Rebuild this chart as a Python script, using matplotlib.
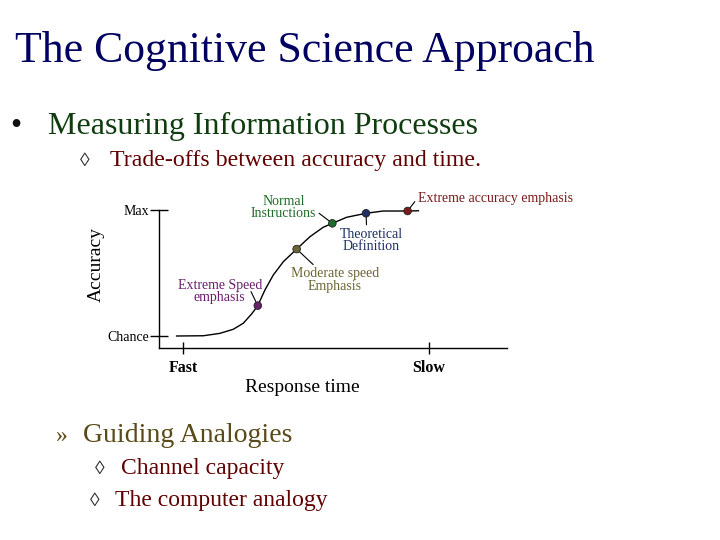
import numpy as np
import matplotlib.pyplot as plt

plt.rcParams['font.family'] = ['Liberation Serif', 'DejaVu Serif']

# speed-accuracy trade-off curve (x: fast=0 .. slow=1, y: chance=0 .. max=1)
curve_x = [-0.026, 0.083, 0.150, 0.204, 0.245, 0.279, 0.304, 0.333, 0.367, 0.408, 0.462,
           0.516, 0.570, 0.607, 0.665, 0.744, 0.814, 0.913, 0.957]
curve_y = [0.0, 0.002, 0.021, 0.053, 0.101, 0.175, 0.241, 0.365, 0.484, 0.590, 0.690,
           0.788, 0.863, 0.894, 0.942, 0.974, 0.992, 0.992, 0.994]

point_names = ["Extreme Speed\nemphasis", "Moderate speed\nEmphasis", "Normal\nInstructions",
               "Theoretical\nDefinition", "Extreme accuracy emphasis"]
point_x = [0.304, 0.462, 0.607, 0.744, 0.913]
point_y = [0.241, 0.690, 0.894, 0.974, 0.992]
point_colors = ['#6a1f6a', '#6b6633', '#1f6b2a', '#1f2f66', '#7a1a1a']

y_tick_labels = ["Chance", "Max"]
x_tick_labels = ["Fast", "Slow"]

fig = plt.figure(figsize=(7.2, 5.4), dpi=100)

# slide background, pixel coordinates
bg = fig.add_axes([0, 0, 1, 1])
bg.set_xlim(0, 720)
bg.set_ylim(540, 0)
bg.axis('off')

bg.text(15, 62, "The Cognitive Science Approach", fontsize=31.5, color='#000060')
bg.text(10, 134, "\u2022", fontsize=23, color='#101010')
bg.text(48, 134, "Measuring Information Processes", fontsize=23, color='#0f3d0f')
bg.text(80, 166, "\u25ca", fontsize=14, color='#333333')
bg.text(110, 166, "Trade-offs between accuracy and time.", fontsize=17.2, color='#600000')

bg.text(55, 442, "\u00bb", fontsize=17, color='#5a4a1a')
bg.text(83, 442, "Guiding Analogies", fontsize=20, color='#5a4a1a')
bg.text(95, 474, "\u25ca", fontsize=14, color='#333333')
bg.text(121, 474, "Channel capacity", fontsize=17, color='#600000')
bg.text(90, 506, "\u25ca", fontsize=14, color='#333333')
bg.text(115, 506, "The computer analogy", fontsize=17, color='#600000')

bg.text(96, 265, "Accuracy", fontsize=14, rotation=90, ha='center', va='center')
bg.text(302, 392, "Response time", fontsize=14, ha='center', va='baseline')

# trade-off diagram
ax = fig.add_axes([159 / 720, 1 - 348 / 540, 348 / 720, 138 / 540])
ax.set_xlim(-24 / 246, 324 / 246)
ax.set_ylim(-12 / 126, 1.0)
ax.patch.set_alpha(0)
for s in ['top', 'right']:
    ax.spines[s].set_visible(False)
for s in ['left', 'bottom']:
    ax.spines[s].set_linewidth(1)

ax.set_yticks([0, 1])
ax.set_yticklabels(y_tick_labels, fontsize=10)
ax.tick_params(axis='y', direction='inout', length=13, width=1, pad=0.5)
ax.set_xticks([0, 1])
ax.set_xticklabels(x_tick_labels, fontsize=11.5, fontweight='bold')
ax.tick_params(axis='x', direction='inout', length=8, width=1, pad=5)

ax.plot(curve_x, curve_y, color='black', linewidth=1, clip_on=False)
ax.scatter(point_x, point_y, s=30, c=point_colors, edgecolors='#222222', linewidths=0.6,
           zorder=3, clip_on=False)

# label offsets in pixels from each point, alignment and leader anchor
label_offsets = [(-38, 14), (38, -31), (-16, 16), (5, -27), (10, 13)]
label_align = [('center', 'center'), ('center', 'center'), ('right', 'center'),
               ('center', 'center'), ('left', 'center')]
label_relpos = [(0.87, 0.5), (0.29, 1.0), (1.0, 0.35), (0.43, 1.0), (0.0, 0.5)]
for name, px, py, col, off, al, rp in zip(point_names, point_x, point_y, point_colors,
                                          label_offsets, label_align, label_relpos):
    ax.annotate(name, (px, py), xytext=off, textcoords='offset pixels',
                ha=al[0], va=al[1], multialignment='center', fontsize=10,
                linespacing=0.95, color=col,
                arrowprops=dict(arrowstyle='-', color='black', lw=0.8,
                                shrinkA=0, shrinkB=3, relpos=rp))

fig.savefig('out.png', dpi=100)
